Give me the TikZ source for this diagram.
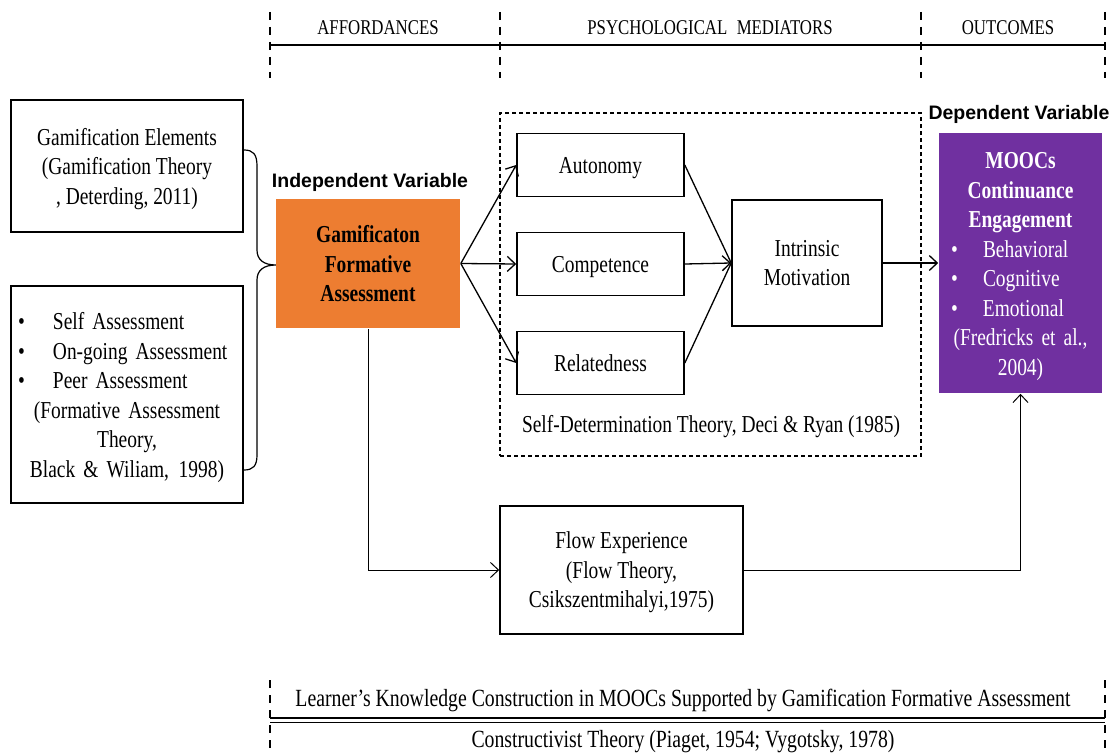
\documentclass[tikz,border=0pt]{standalone}
\usepackage{fontspec}
\setmainfont{Liberation Serif}[FakeStretch=0.8]
\newfontfamily\labelfont{Liberation Sans}
\usetikzlibrary{arrows.meta}
\definecolor{ivorange}{HTML}{ED7D31}
\definecolor{dvpurple}{HTML}{7030A0}

\begin{document}
\begin{tikzpicture}[x=1pt,y=-1pt,
  body/.style={font=\fontsize{24.3}{29.5}\selectfont},
  box/.style={draw, line width=1.6pt, align=center, inner sep=0pt, body},
  cbox/.style={box, text depth=0pt},
  head/.style={font=\fontsize{21}{25}\selectfont, inner sep=0pt},
  foot/.style={font=\fontsize{24.7}{28}\selectfont, inner sep=0pt},
  tag/.style={font=\labelfont\bfseries\fontsize{19.5}{22}\selectfont, inner sep=0pt},
  link/.style={line width=1.3pt, -{Straight Barb[length=8pt,width=15pt,line width=1.3pt]}},
  plain/.style={line width=1.3pt},
  thinlink/.style={line width=1pt, -{Straight Barb[length=8pt,width=15pt,line width=1pt]}},
  rule/.style={line width=1.2pt, dash pattern=on 8pt off 7pt},
]
\useasboundingbox (0,0) rectangle (1115,754);

% ---- header band ----
\foreach \x in {270,500,921,1105} \draw[rule] (\x,12) -- (\x,78);
\draw[line width=2.5pt] (270,45) -- (1105,45);
\node[head] (hAff) at (378,28) {AFFORDANCES};
\node[head] (hMed) at (710,28) {PSYCHOLOGICAL\hspace{0.45em}MEDIATORS};
\node[head] (hOut) at (1008,28) {OUTCOMES};

% ---- affordances ----
\node[cbox, minimum width=232pt, minimum height=132pt] (ge) at (127,166)
  {Gamification Elements\\(Gamification Theory\\, Deterding, 2011)};
\node[box, minimum width=232pt, minimum height=217pt, text width=232pt, align=left] (fa) at (127,394.5)
  {\rule{0pt}{23pt}\makebox[42pt][l]{\hspace*{7pt}\textbullet}Self Assessment\\
   \makebox[42pt][l]{\hspace*{7pt}\textbullet}On-going Assessment\\
   \makebox[42pt][l]{\hspace*{7pt}\textbullet}Peer Assessment\\
   \makebox[232pt][c]{(Formative Assessment}\\
   \makebox[232pt][c]{Theory,}\\
   \makebox[232pt][c]{Black \& Wiliam,\hspace{0.4em}1998)}};

% curly brace joining the two affordance boxes
\draw[line width=1.2pt] (244,150) .. controls (253,150) and (257,154) .. (257,166)
  -- (257,250) .. controls (257,260) and (264,265) .. (276,265)
  .. controls (264,265) and (257,270) .. (257,280)
  -- (257,455) .. controls (257,466) and (253,470) .. (244,470);

% ---- independent variable ----
\node[tag] (ivTag) at (370,182) {Independent Variable};
\node[cbox, draw=none, fill=ivorange, minimum width=184pt, minimum height=129pt, font=\fontsize{24.3}{29.5}\selectfont\bfseries] (iv) at (368,263.5)
  {Gamificaton\\Formative\\Assessment};

% ---- psychological mediators ----
\node[draw, line width=1.3pt, dash pattern=on 4pt off 3pt, minimum width=421pt, minimum height=343pt] (sdt) at (710.5,284.5) {};
\node[body, inner sep=0pt] (sdtLabel) at (711,427) {Self-Determination Theory, Deci \& Ryan (1985)};

\node[cbox, minimum width=167pt, minimum height=63pt] (aut) at (600.5,165) {Autonomy};
\node[cbox, minimum width=167pt, minimum height=63pt] (com) at (600.5,264) {Competence};
\node[cbox, minimum width=167pt, minimum height=63pt] (rel) at (600.5,363) {Relatedness};
\node[cbox, minimum width=150pt, minimum height=126pt] (im) at (807,263) {Intrinsic\\Motivation};

\node[cbox, minimum width=243pt, minimum height=128pt] (flow) at (621.5,570)
  {Flow Experience\\(Flow Theory,\\Csikszentmihalyi,1975)};

% ---- outcome ----
\node[tag] (dvTag) at (1019,114) {Dependent Variable};
\node[box, draw=none, fill=dvpurple, text=white, minimum width=163pt, minimum height=260pt, text width=163pt, align=left] (dv) at (1020.5,263)
  {\rule{0pt}{23pt}\makebox[163pt][c]{\bfseries MOOCs}\\
   \makebox[163pt][c]{\bfseries Continuance}\\
   \makebox[163pt][c]{\bfseries Engagement}\\
   \makebox[44pt][l]{\hspace*{12pt}\textbullet}Behavioral\\
   \makebox[44pt][l]{\hspace*{12pt}\textbullet}Cognitive\\
   \makebox[44pt][l]{\hspace*{12pt}\textbullet}Emotional\\
   \makebox[163pt][c]{(Fredricks et al.,}\\
   \makebox[163pt][c]{2004)}};

% ---- connectors ----
\draw[link] (iv.east) -- (aut.west);
\draw[link] (iv.east) -- (com.west);
\draw[link] (iv.east) -- (rel.west);
\draw[plain] (aut.east) -- (im.west);
\draw[link] (com.east) -- (im.west);
\draw[plain] (rel.east) -- (im.west);
\draw[link] (im.east) -- (dv.west);
\draw[thinlink] (iv.south) |- (flow.west);
\draw[thinlink] (flow.east) -| (dv.south);

% ---- foundation band ----
\foreach \x in {270,1105} \draw[rule] (\x,680) -- (\x,754);
\node[foot] (learn) at (683,700)
  {Learner’s Knowledge Construction in MOOCs Supported by Gamification Formative Assessment};
\draw[line width=2.2pt] (270,718) -- (1105,718);
\draw[line width=0.8pt] (270,722) -- (1105,722);
\node[foot] (constr) at (683,742)
  {Constructivist Theory (Piaget, 1954; Vygotsky, 1978)};
\end{tikzpicture}
\end{document}
